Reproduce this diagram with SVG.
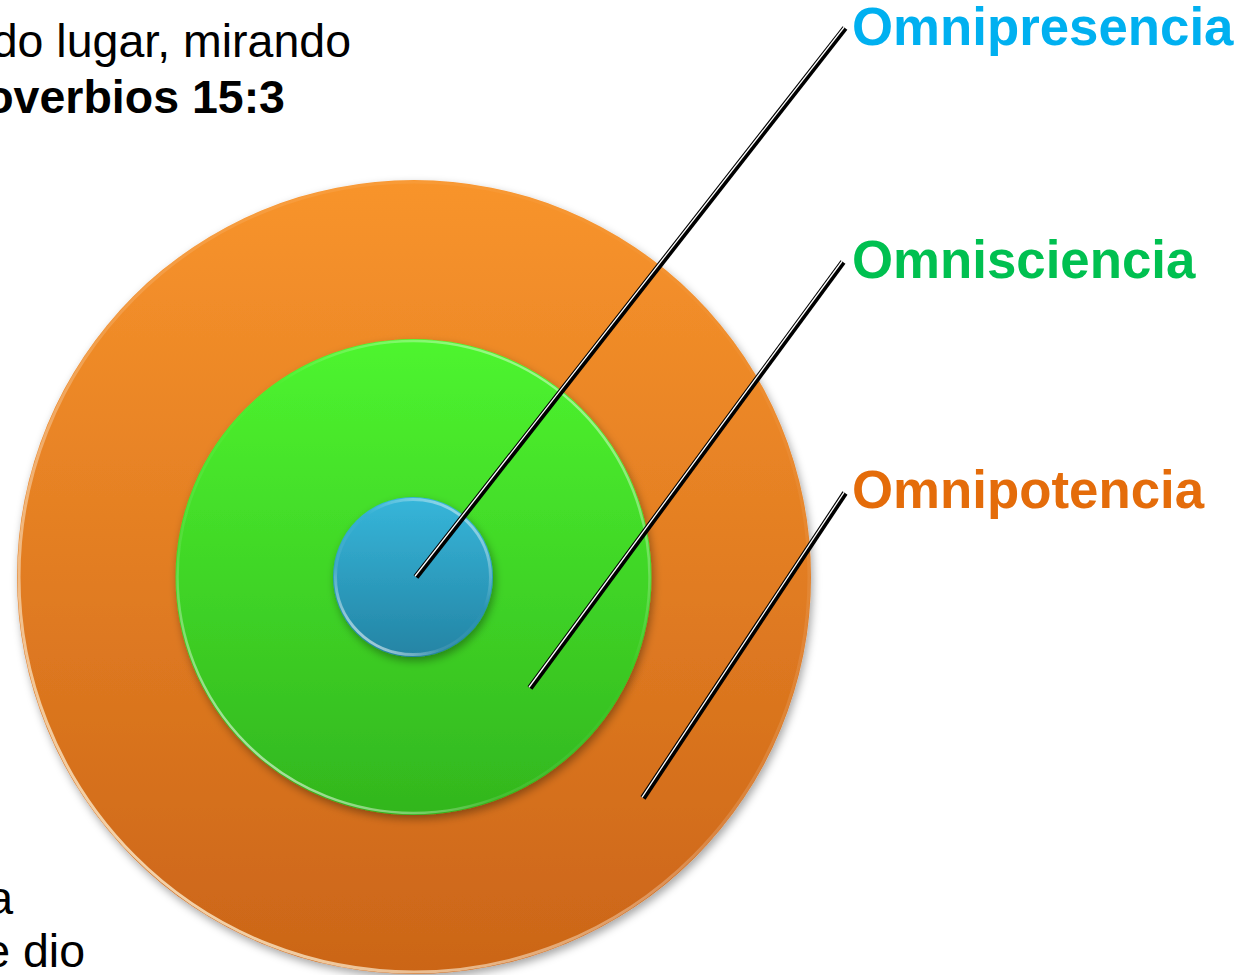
<svg xmlns="http://www.w3.org/2000/svg" width="1234" height="975" viewBox="0 0 1234 975">
<style>
.body{font-family:"Liberation Sans",Arial,sans-serif;font-size:46.5px;fill:#000}
.b{font-weight:bold}
.lbl{font-family:"Liberation Sans",Arial,sans-serif;font-size:52.8px;font-weight:bold}
.blk{stroke:#000;stroke-width:6;fill:none}
.wht{stroke:#fff;stroke-width:1.3;fill:none}
</style>
<defs>
<linearGradient id="gO" x1="0" y1="0" x2="0" y2="1">
<stop offset="0" stop-color="#F8942C"/><stop offset="1" stop-color="#CB6518"/>
</linearGradient>
<linearGradient id="gG" x1="0" y1="0" x2="0" y2="1">
<stop offset="0" stop-color="#4EF52F"/><stop offset="1" stop-color="#32B61E"/>
</linearGradient>
<linearGradient id="gB" x1="0" y1="0" x2="0" y2="1">
<stop offset="0" stop-color="#36B6DA"/><stop offset="1" stop-color="#2484A4"/>
</linearGradient>
<linearGradient id="rim" x1="0.9" y1="0" x2="0.1" y2="1">
<stop offset="0" stop-color="#fff" stop-opacity="0"/><stop offset="0.5" stop-color="#fff" stop-opacity="0.15"/><stop offset="1" stop-color="#FFF3D0" stop-opacity="0.9"/>
</linearGradient>
<linearGradient id="rim2" x1="0.9" y1="0" x2="0.1" y2="1">
<stop offset="0" stop-color="#fff" stop-opacity="0.6"/><stop offset="0.4" stop-color="#fff" stop-opacity="0"/><stop offset="0.7" stop-color="#fff" stop-opacity="0.1"/><stop offset="1" stop-color="#fff" stop-opacity="0.8"/>
</linearGradient>
<filter id="sh" x="-10%" y="-10%" width="120%" height="120%">
<feDropShadow dx="2" dy="4" stdDeviation="4" flood-color="#000" flood-opacity="0.35"/>
</filter>
</defs>
<rect width="1234" height="975" fill="#fff"/>
<g id="text-top">
<text class="body" x="351" y="57" text-anchor="end">do lugar, mirando</text>
<text class="body b" x="285" y="113" text-anchor="end">overbios 15:3</text>
</g>
<g id="text-bottom">
<text class="body" x="13" y="914" text-anchor="end">a</text>
<text class="body" x="85" y="967" text-anchor="end">e dio</text>
</g>
<g id="omnipotencia-circle">
<circle cx="414" cy="577" r="397" fill="url(#gO)" filter="url(#sh)"/>
<circle cx="414" cy="577" r="395" fill="none" stroke="url(#rim)" stroke-width="3"/>
</g>
<g id="omnisciencia-circle">
<circle cx="413.5" cy="577" r="238" fill="url(#gG)" filter="url(#sh)"/>
<circle cx="413.5" cy="577" r="236" fill="none" stroke="url(#rim2)" stroke-width="2.5"/>
</g>
<g id="omnipresencia-circle">
<circle cx="413" cy="577" r="80" fill="url(#gB)" filter="url(#sh)"/>
<circle cx="413" cy="577" r="77.5" fill="none" stroke="url(#rim2)" stroke-width="3"/>
</g>
<g id="connectors">
<line class="blk" x1="416" y1="577" x2="845" y2="28"/>
<line class="wht" x1="416" y1="577" x2="845" y2="28" transform="translate(-1,-0.75)"/>
<line class="blk" x1="530" y1="688" x2="843" y2="262"/>
<line class="wht" x1="530" y1="688" x2="843" y2="262" transform="translate(-1,-0.75)"/>
<line class="blk" x1="643" y1="798" x2="845" y2="493"/>
<line class="wht" x1="643" y1="798" x2="845" y2="493" transform="translate(-1,-0.7)"/>
</g>
<g id="label-omnipresencia"><text class="lbl" x="852" y="45" fill="#00B0F0">Omnipresencia</text></g>
<g id="label-omnisciencia"><text class="lbl" x="852" y="278" fill="#00C050">Omnisciencia</text></g>
<g id="label-omnipotencia"><text class="lbl" x="852" y="508" fill="#E46C0A">Omnipotencia</text></g>
</svg>
